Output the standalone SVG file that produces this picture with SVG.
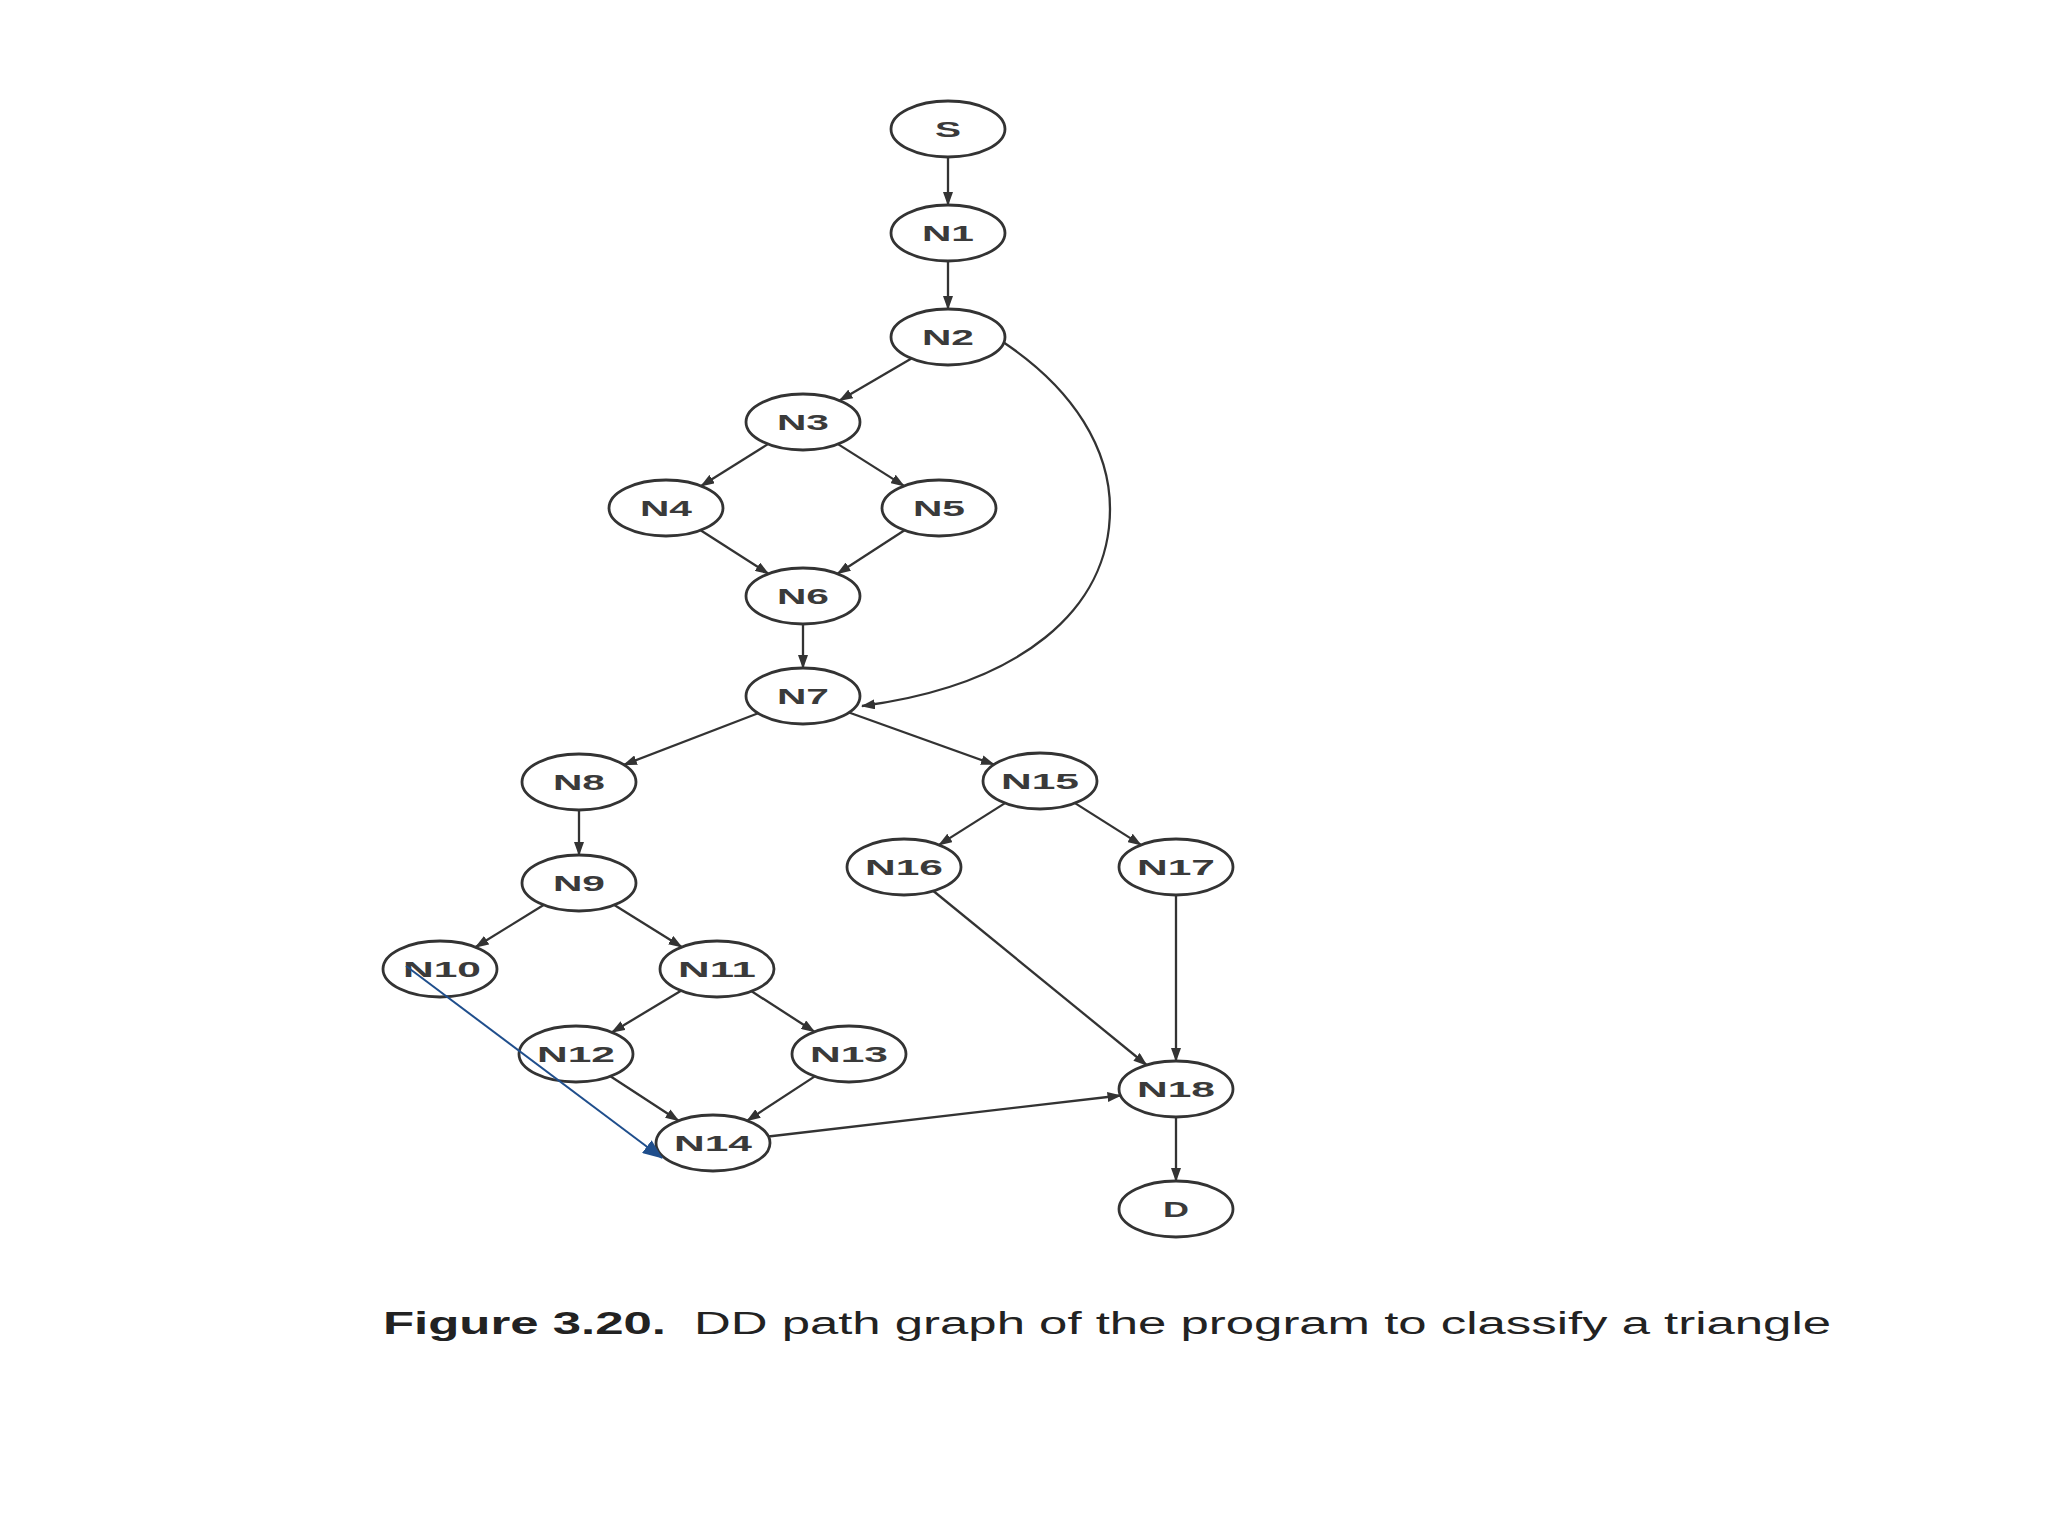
<svg xmlns="http://www.w3.org/2000/svg" width="2048" height="1536" viewBox="0 0 2048 1536">
<style>
.node ellipse{fill:#fff;stroke:#333;stroke-width:2.8}
.node text{font-family:"Liberation Sans",Arial,sans-serif;font-size:22px;font-weight:bold;fill:#3a3a3a;text-anchor:middle}
.edge{stroke:#333;stroke-width:2.3;fill:none;marker-end:url(#ah)}
.cap{font-family:"Liberation Sans",Arial,sans-serif;font-size:31px;fill:#222}
</style>
<defs>
<marker id="ah" markerWidth="14" markerHeight="10" refX="13" refY="5" orient="auto" markerUnits="userSpaceOnUse"><path d="M0,0 L14,5 L0,10 z" fill="#333"/></marker>
<marker id="bh" markerWidth="20" markerHeight="16" refX="19" refY="8" orient="auto" markerUnits="userSpaceOnUse"><path d="M0,0 L20,8 L0,16 z" fill="#1f4e8c"/></marker>
</defs>
<rect width="2048" height="1536" fill="#fff"/>
<g id="connectors">
<line class="edge" x1="948" y1="157" x2="948" y2="205"/>
<line class="edge" x1="948" y1="261" x2="948" y2="309"/>
<line class="edge" x1="911.4" y1="358.5" x2="839.6" y2="400.5"/>
<line class="edge" x1="767.9" y1="444.1" x2="701.1" y2="486"/>
<line class="edge" x1="838" y1="444.1" x2="904" y2="485.9"/>
<line class="edge" x1="700.6" y1="530.2" x2="768.4" y2="573.8"/>
<line class="edge" x1="904.5" y1="530.3" x2="837.5" y2="573.7"/>
<line class="edge" x1="803" y1="624" x2="803" y2="668"/>
<path class="edge" d="M1003,342 C1075,390 1110,450 1110,509 C1110,610 1020,685 862,706"/>
<line class="edge" x1="758.1" y1="713.2" x2="623.9" y2="764.8"/>
<line class="edge" x1="849" y1="712.5" x2="994" y2="764.5"/>
<line class="edge" x1="579" y1="810" x2="579" y2="855"/>
<line class="edge" x1="1005" y1="803.1" x2="939" y2="844.9"/>
<line class="edge" x1="1075" y1="803.1" x2="1141" y2="844.9"/>
<line class="edge" x1="543.6" y1="904.9" x2="475.6" y2="947.1"/>
<line class="edge" x1="614.3" y1="905" x2="681.7" y2="947"/>
<line class="edge" x1="681" y1="990.7" x2="612" y2="1032.3"/>
<line class="edge" x1="751.6" y1="991.3" x2="814.4" y2="1031.7"/>
<line class="edge" x1="610.4" y1="1076.3" x2="678.6" y2="1120.7"/>
<line class="edge" x1="814.8" y1="1076.4" x2="747.2" y2="1120.6"/>
<line class="edge" x1="933.4" y1="891" x2="1146.6" y2="1065"/>
<line class="edge" x1="1176" y1="895" x2="1176" y2="1061"/>
<line class="edge" x1="768.5" y1="1136.5" x2="1120.5" y2="1095.5"/>
<line class="edge" x1="1176" y1="1117" x2="1176" y2="1181"/>
</g>
<g id="S" class="node"><ellipse cx="948" cy="129" rx="57" ry="28"/><text x="948" y="137" textLength="26" lengthAdjust="spacingAndGlyphs">S</text></g>
<g id="N1" class="node"><ellipse cx="948" cy="233" rx="57" ry="28"/><text x="948" y="241" textLength="52" lengthAdjust="spacingAndGlyphs">N1</text></g>
<g id="N2" class="node"><ellipse cx="948" cy="337" rx="57" ry="28"/><text x="948" y="345" textLength="52" lengthAdjust="spacingAndGlyphs">N2</text></g>
<g id="N3" class="node"><ellipse cx="803" cy="422" rx="57" ry="28"/><text x="803" y="430" textLength="52" lengthAdjust="spacingAndGlyphs">N3</text></g>
<g id="N4" class="node"><ellipse cx="666" cy="508" rx="57" ry="28"/><text x="666" y="516" textLength="52" lengthAdjust="spacingAndGlyphs">N4</text></g>
<g id="N5" class="node"><ellipse cx="939" cy="508" rx="57" ry="28"/><text x="939" y="516" textLength="52" lengthAdjust="spacingAndGlyphs">N5</text></g>
<g id="N6" class="node"><ellipse cx="803" cy="596" rx="57" ry="28"/><text x="803" y="604" textLength="52" lengthAdjust="spacingAndGlyphs">N6</text></g>
<g id="N7" class="node"><ellipse cx="803" cy="696" rx="57" ry="28"/><text x="803" y="704" textLength="52" lengthAdjust="spacingAndGlyphs">N7</text></g>
<g id="N8" class="node"><ellipse cx="579" cy="782" rx="57" ry="28"/><text x="579" y="790" textLength="52" lengthAdjust="spacingAndGlyphs">N8</text></g>
<g id="N15" class="node"><ellipse cx="1040" cy="781" rx="57" ry="28"/><text x="1040" y="789" textLength="78" lengthAdjust="spacingAndGlyphs">N15</text></g>
<g id="N9" class="node"><ellipse cx="579" cy="883" rx="57" ry="28"/><text x="579" y="891" textLength="52" lengthAdjust="spacingAndGlyphs">N9</text></g>
<g id="N16" class="node"><ellipse cx="904" cy="867" rx="57" ry="28"/><text x="904" y="875" textLength="78" lengthAdjust="spacingAndGlyphs">N16</text></g>
<g id="N17" class="node"><ellipse cx="1176" cy="867" rx="57" ry="28"/><text x="1176" y="875" textLength="78" lengthAdjust="spacingAndGlyphs">N17</text></g>
<g id="N10" class="node"><ellipse cx="440" cy="969" rx="57" ry="28"/><text x="442" y="977" textLength="78" lengthAdjust="spacingAndGlyphs">N10</text></g>
<g id="N11" class="node"><ellipse cx="717" cy="969" rx="57" ry="28"/><text x="717" y="977" textLength="78" lengthAdjust="spacingAndGlyphs">N11</text></g>
<g id="N12" class="node"><ellipse cx="576" cy="1054" rx="57" ry="28"/><text x="576" y="1062" textLength="78" lengthAdjust="spacingAndGlyphs">N12</text></g>
<g id="N13" class="node"><ellipse cx="849" cy="1054" rx="57" ry="28"/><text x="849" y="1062" textLength="78" lengthAdjust="spacingAndGlyphs">N13</text></g>
<g id="N14" class="node"><ellipse cx="713" cy="1143" rx="57" ry="28"/><text x="713" y="1151" textLength="78" lengthAdjust="spacingAndGlyphs">N14</text></g>
<g id="N18" class="node"><ellipse cx="1176" cy="1089" rx="57" ry="28"/><text x="1176" y="1097" textLength="78" lengthAdjust="spacingAndGlyphs">N18</text></g>
<g id="D" class="node"><ellipse cx="1176" cy="1209" rx="57" ry="28"/><text x="1176" y="1217" textLength="26" lengthAdjust="spacingAndGlyphs">D</text></g>
<g id="annotation">
<line x1="406" y1="966" x2="662" y2="1158" stroke="#1f4e8c" stroke-width="2" marker-end="url(#bh)"/>
</g>
<g id="caption">
<text class="cap" x="383" y="1334" font-weight="bold" textLength="283" lengthAdjust="spacingAndGlyphs">Figure 3.20.</text>
<text class="cap" x="694" y="1334" textLength="1137" lengthAdjust="spacingAndGlyphs">DD path graph of the program to classify a triangle</text>
</g>
</svg>
